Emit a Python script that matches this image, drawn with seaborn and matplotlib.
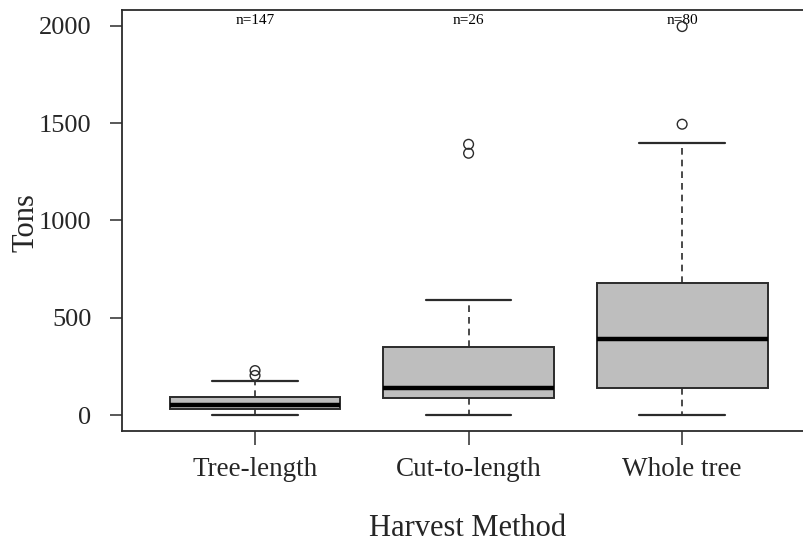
import matplotlib
matplotlib.use("Agg")
import matplotlib.pyplot as plt
import seaborn as sns
import pandas as pd

# ---- data ----
categories = ["Tree-length", "Cut-to-length", "Whole tree"]
counts = [147, 26, 80]
whisker_low = [0, 0, 0]
q1 = [31, 87, 143]
median = [51, 143, 394]
q3 = [97, 353, 680]
whisker_high = [179, 593, 1396]
outliers_tree_length = [205, 230]
outliers_cut_to_length = [1345, 1391]
outliers_whole_tree = [1494, 1995]
y_ticks = [0, 500, 1000, 1500, 2000]

# five-number summaries as rows (whis=(0,100) makes whiskers hit min/max)
rows = []
for i, c in enumerate(categories):
    for v in (whisker_low[i], q1[i], median[i], q3[i], whisker_high[i]):
        rows.append({"method": c, "tons": v})
box_df = pd.DataFrame(rows)

out_rows = []
for c, vals in zip(categories, [outliers_tree_length, outliers_cut_to_length, outliers_whole_tree]):
    for v in vals:
        out_rows.append({"method": c, "tons": v})
out_df = pd.DataFrame(out_rows)

sns.set_style("white")
plt.rcParams["font.family"] = ["Liberation Serif", "DejaVu Serif"]

fig = plt.figure(figsize=(8.04, 5.42), dpi=100)
W, H = 804, 542
left_px, right_px, top_px, bottom_px = 122, 806, 10, 431
ax = fig.add_axes([left_px / W, 1 - bottom_px / H,
                   (right_px - left_px) / W, (bottom_px - top_px) / H])

edge = "#2b2b2b"
sns.boxplot(data=box_df, x="method", y="tons", order=categories, ax=ax,
            whis=(0, 100), width=0.8, color="#BEBEBE", saturation=1,
            showfliers=False, linecolor=edge, linewidth=1.4,
            boxprops=dict(edgecolor=edge, linewidth=1.4),
            medianprops=dict(color="black", linewidth=3.2),
            whiskerprops=dict(color=edge, linewidth=1.2, linestyle=(0, (4, 3))),
            capprops=dict(color=edge, linewidth=1.6))

sns.stripplot(data=out_df, x="method", y="tons", order=categories, ax=ax,
              jitter=False, size=7, marker="o", color="white",
              edgecolor=edge, linewidth=1.0, zorder=5)
for coll in ax.collections:
    coll.set_facecolor("none")
    coll.set_edgecolor(edge)

# sample size labels
for i, n in enumerate(counts):
    ax.text(i, 2025, f"n={n}", ha="center", va="center", fontsize=11,
            color="black", zorder=4)

ax.set_xlim(-0.623, 2.58)
ax.set_ylim(-80, 2080)
ax.set_yticks(y_ticks)
ax.set_yticklabels([str(t) for t in y_ticks])

for s in ["left", "bottom", "top", "right"]:
    ax.spines[s].set_visible(True)
    ax.spines[s].set_color(edge)
    ax.spines[s].set_linewidth(1.3)

ax.tick_params(axis="y", direction="out", length=9, width=1.1, color=edge,
               labelsize=19, pad=13, left=True)
ax.tick_params(axis="x", direction="out", length=10, width=1.1, color=edge,
               labelsize=19.5, pad=9, bottom=True)

ax.set_xlabel("Harvest Method", fontsize=22)
ax.set_ylabel("Tons", fontsize=22)
ax.xaxis.set_label_coords((468 - left_px) / (right_px - left_px),
                          (bottom_px - 528) / (bottom_px - top_px))
ax.xaxis.label.set_va("center")
ax.yaxis.set_label_coords((26 - left_px) / (right_px - left_px), 0.496)
ax.yaxis.label.set_va("center")

fig.savefig("out.png", dpi=100)
